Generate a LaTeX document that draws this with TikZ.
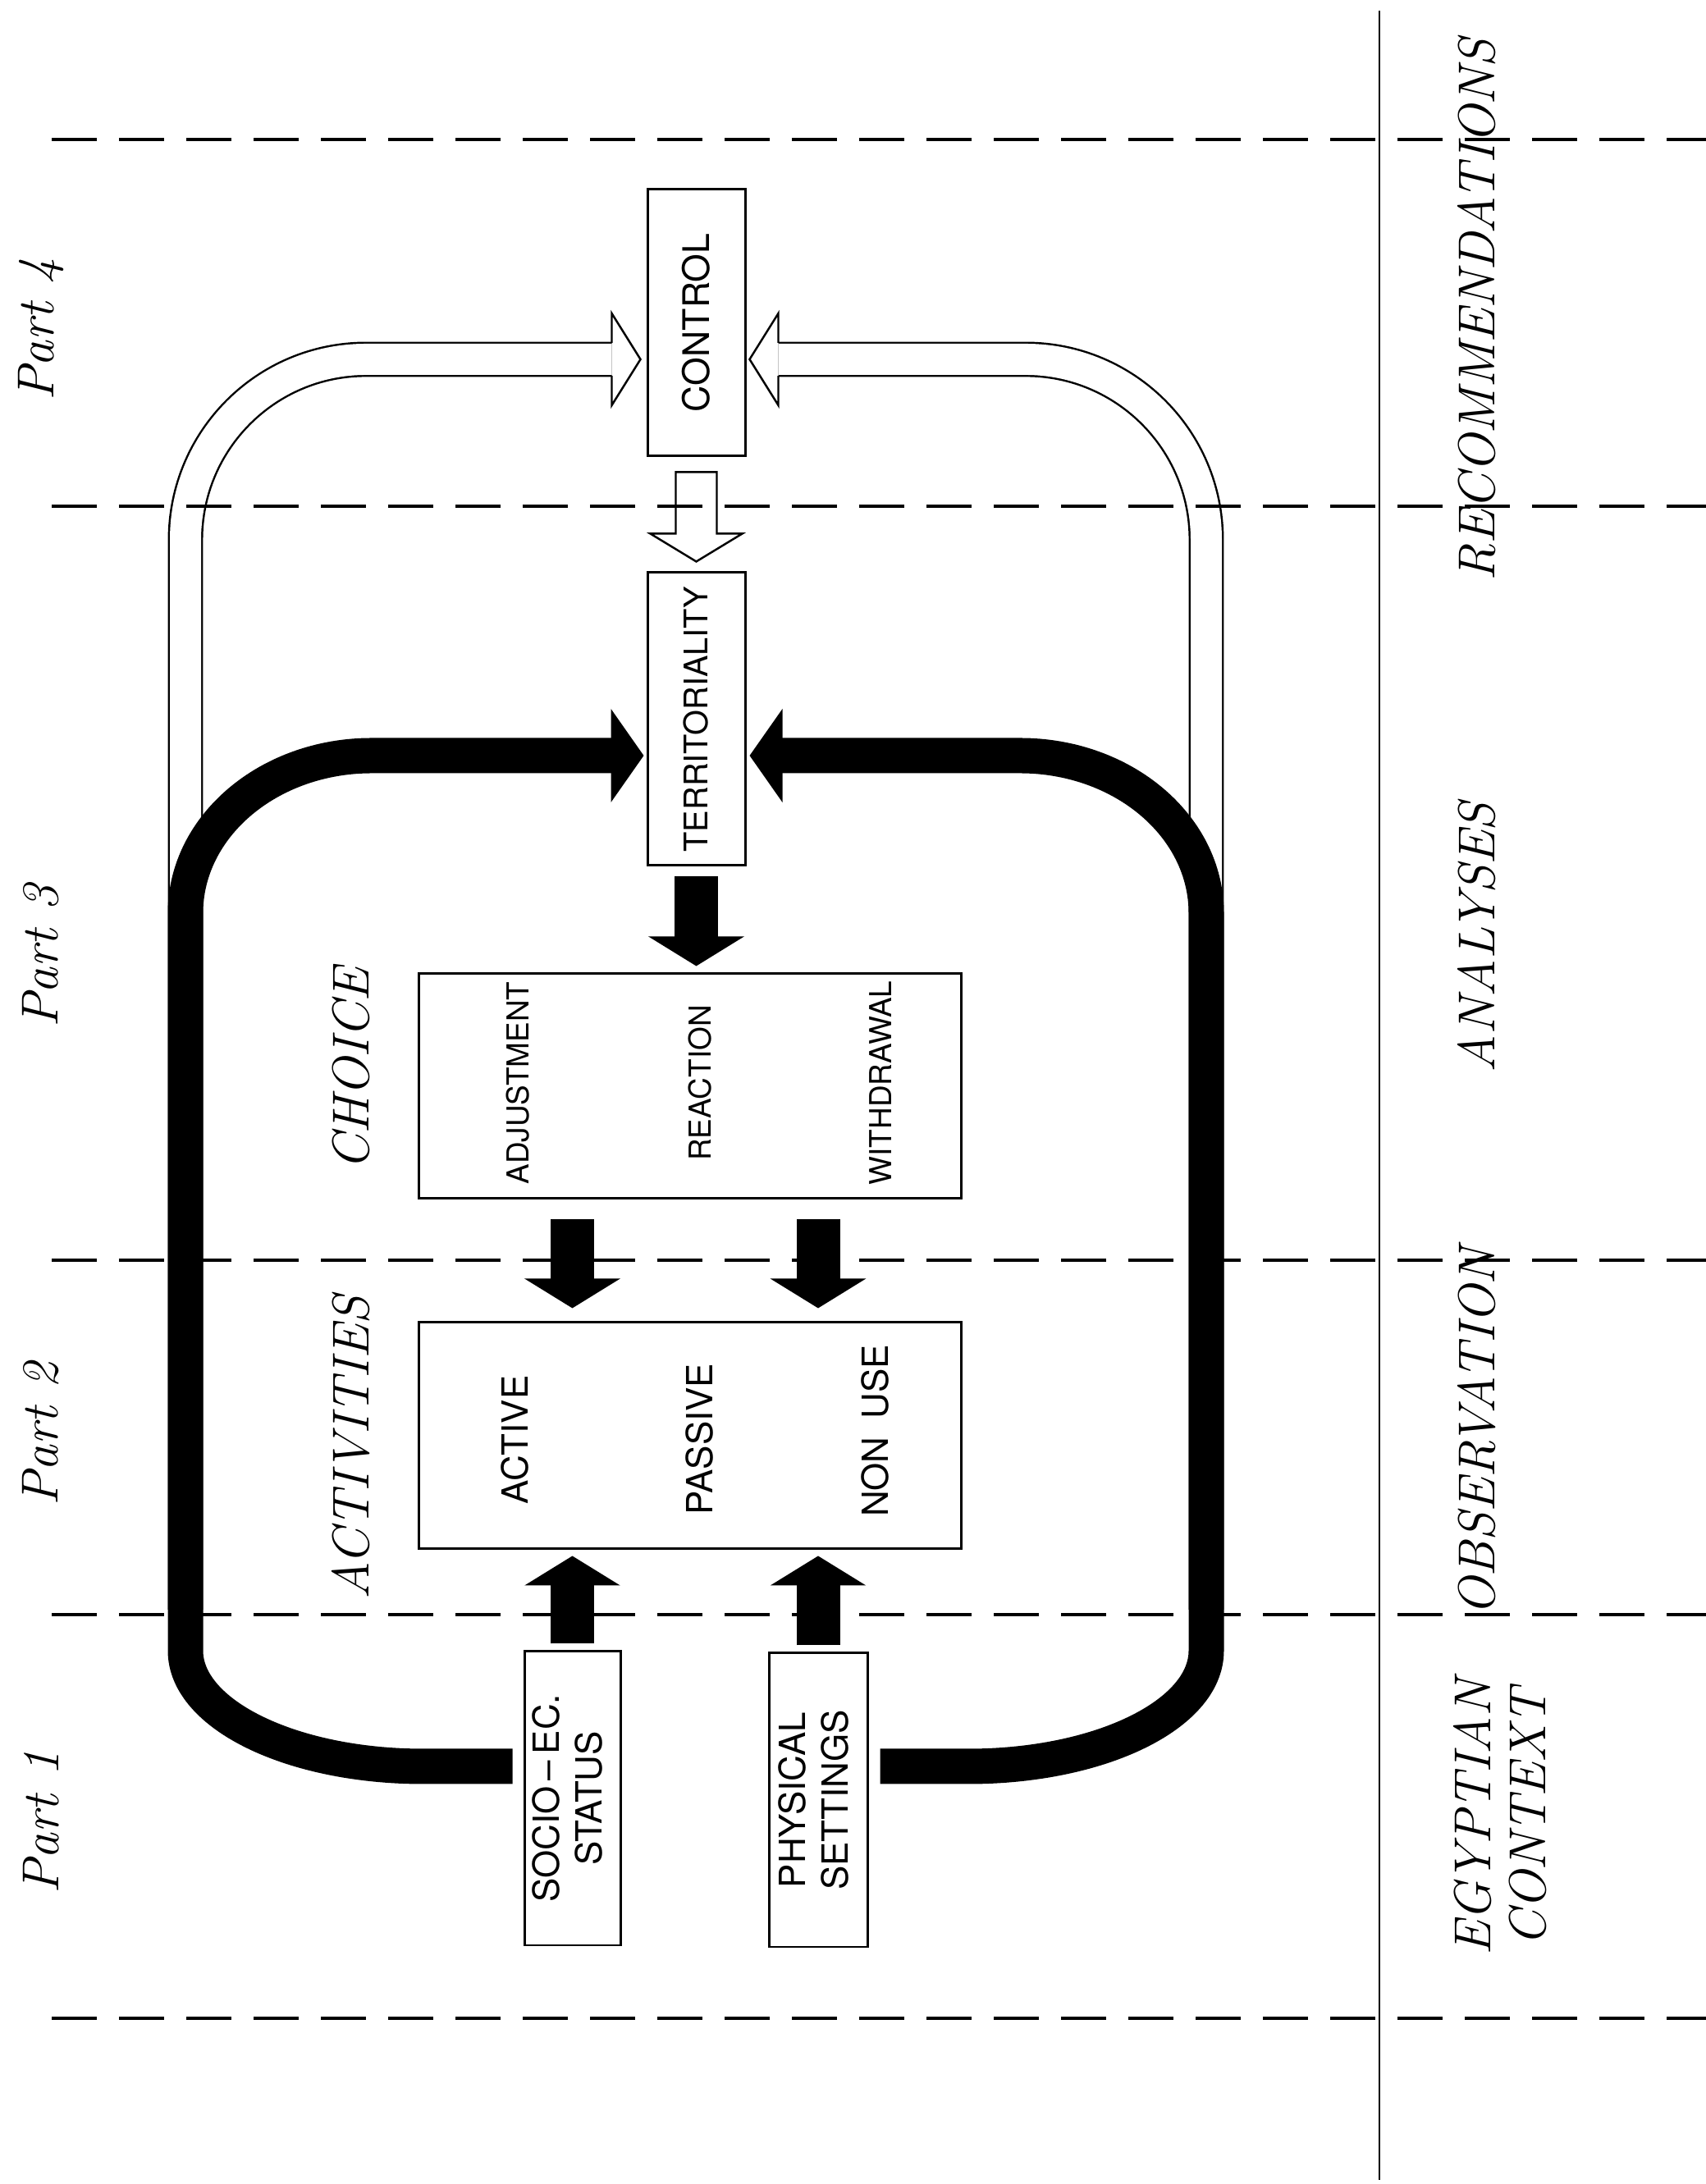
\documentclass[tikz,border=0pt]{standalone}
\usepackage{fontspec}
\setsansfont{TeX Gyre Heros}
\usepackage{graphicx}
\usetikzlibrary{arrows.meta,calc}

\begin{document}
\begin{tikzpicture}[
  box/.style={draw,line width=0.85pt,inner sep=0pt},
  boxtxt/.style={font=\sffamily\fontsize{12.5}{14.8}\selectfont},
  lbl/.style={rotate=90,font=\itshape\fontsize{18}{19}\selectfont},
  part/.style={rotate=90,font=\itshape\fontsize{18}{19}\selectfont\addfontfeature{LetterSpace=15}},
  sep/.style={line width=0.9pt,dash pattern=on 0.55cm off 0.27cm},
  blk/.style={line width=0.53cm,-{Triangle[length=0.36cm,width=1.15cm]}},
  loopline/.style={line width=0.43cm,-{Triangle[length=0.40cm,width=1.12cm]}},
  hollowband/.style={double,double distance=0.38cm,line width=0.7pt},
  hollow/.style={line width=0.7pt,line join=miter}]
  \useasboundingbox (0,0) rectangle (20.79,26.62);

  % stages
  \draw[line width=0.7pt] (16.81,0.05) -- (16.81,26.49);
  \foreach \y/\t [count=\i] in {22.84/RECOMMENDATIONS,15.19/ANALYSES,9.17/OBSERVATION}
    \node[lbl] (stage\i) at (18.0,\y) {\t};
  \node[lbl,align=center] (stage4) at (18.28,4.47) {EGYPTIAN\\CONTEXT};
  \foreach \y/\n in {22.60/4,14.96/3,9.14/2,4.41/1}
    \node[part] (part\n) at (0.50,\y) {Part\ \n};

  % boxes
  \node[box,boxtxt,minimum width=1.19cm,minimum height=3.25cm,font=\sffamily\fontsize{12.7}{15}\selectfont] (ctrl) at (8.485,22.685) {\rotatebox{90}{CONTROL}};
  \node[box,boxtxt,minimum width=1.19cm,minimum height=3.57cm,font=\sffamily\fontsize{11.3}{13}\selectfont] (terr) at (8.485,17.855) {\rotatebox{90}{TERRITORIALITY}};
  \node[box,minimum width=6.61cm,minimum height=2.74cm] (choice) at (8.405,13.38) {};
  \node[box,minimum width=6.61cm,minimum height=2.76cm] (act) at (8.405,9.12) {};
  \node[box,boxtxt,minimum width=1.17cm,minimum height=3.58cm] (socio) at (6.975,4.70) {\rotatebox{90}{\begin{tabular}{@{}c@{}}SOCIO\,--\,EC.\\STATUS\end{tabular}}};
  \node[box,boxtxt,minimum width=1.20cm,minimum height=3.58cm] (phys) at (9.97,4.68) {\rotatebox{90}{\begin{tabular}{@{}c@{}}PHYSICAL\\SETTINGS\end{tabular}}};

  \foreach \t/\dx [count=\i] in {ADJUSTMENT/-2.095,REACTION/0.125,WITHDRAWAL/2.325}
    \node[font=\sffamily\fontsize{10.5}{12}\selectfont] (ch\i) at ([shift={(\dx,0.04)}]choice.center) {\rotatebox{90}{\t}};
  \foreach \t/\dx/\dy [count=\i] in {ACTIVE/-2.135/-0.05,PASSIVE/0.115/-0.04,{NON\enspace USE}/2.255/0.06}
    \node[boxtxt] (ac\i) at ([shift={(\dx,\dy)}]act.center) {\rotatebox{90}{\t}};
  \node[lbl] (choicelbl) at (4.28,13.59) {CHOICE};
  \node[lbl] (actlbl) at (4.28,8.97) {ACTIVITIES};

  % feedback to control
  \coordinate (hl) at ([shift={(-0.07,-0.445)}]ctrl.west);
  \coordinate (hr) at ([shift={(0.04,-0.445)}]ctrl.east);
  \draw[hollowband] (2.26,7.0) -- (2.26,20.04) arc[start angle=180,end angle=90,radius=2.2] -- ($(hl)+(-0.35,0)$);
  \draw[hollowband] (14.70,7.0) -- (14.70,20.04) arc[start angle=0,end angle=90,radius=2.2] -- ($(hr)+(0.35,0)$);
  \draw[hollow] (hl) ++(-0.35,0.202) -- ++(0,0.358) -- (hl) -- ++(-0.35,-0.56) -- ++(0,0.358);
  \draw[hollow] (hr) ++(0.35,0.202) -- ++(0,0.358) -- (hr) -- ++(0.35,-0.56) -- ++(0,0.358);
  \coordinate (ct) at ([yshift=-0.18cm]ctrl.south);
  \draw[hollow] (ct) ++(-0.25,0) -- ++(0.5,0) -- ++(0,-0.75) -- ++(0.31,0) -- ++(-0.56,-0.34) -- ++(-0.56,0.34) -- ++(0.31,0) -- cycle;

  \foreach \y in {24.92,20.45,11.26,6.94,2.02}
    \draw[sep] (0.63,\y) -- (20.79,\y);

  % loop to territoriality
  \draw[loopline] ([shift={(-0.13,0.39)}]socio.west) -- (5.16,5.09) arc[start angle=270,end angle=180,x radius=2.9,y radius=1.41]
    -- (2.26,15.49) arc[start angle=180,end angle=90,x radius=2.27,y radius=1.92] -- ([shift={(-0.03,-0.445)}]terr.west);
  \draw[loopline] ([shift={(0.14,0.41)}]phys.east) -- (11.80,5.09) arc[start angle=270,end angle=360,x radius=2.9,y radius=1.41]
    -- (14.70,15.49) arc[start angle=0,end angle=90,x radius=2.27,y radius=1.92] -- ([shift={(0.04,-0.445)}]terr.east);

  \draw[blk,shorten <=0.12cm,shorten >=0.08cm] (terr.south) -- (terr.south |- choice.north);
  \draw[blk,shorten <=0.24cm,shorten >=0.16cm] (choice.south -| socio.north) -- (act.north -| socio.north);
  \draw[blk,shorten <=0.24cm,shorten >=0.16cm] (choice.south -| phys.north) -- (act.north -| phys.north);
  \draw[blk,shorten <=0.08cm,shorten >=0.07cm] (socio.north) -- (socio.north |- act.south);
  \draw[blk,shorten <=0.08cm,shorten >=0.07cm] (phys.north) -- (phys.north |- act.south);
\end{tikzpicture}
\end{document}
